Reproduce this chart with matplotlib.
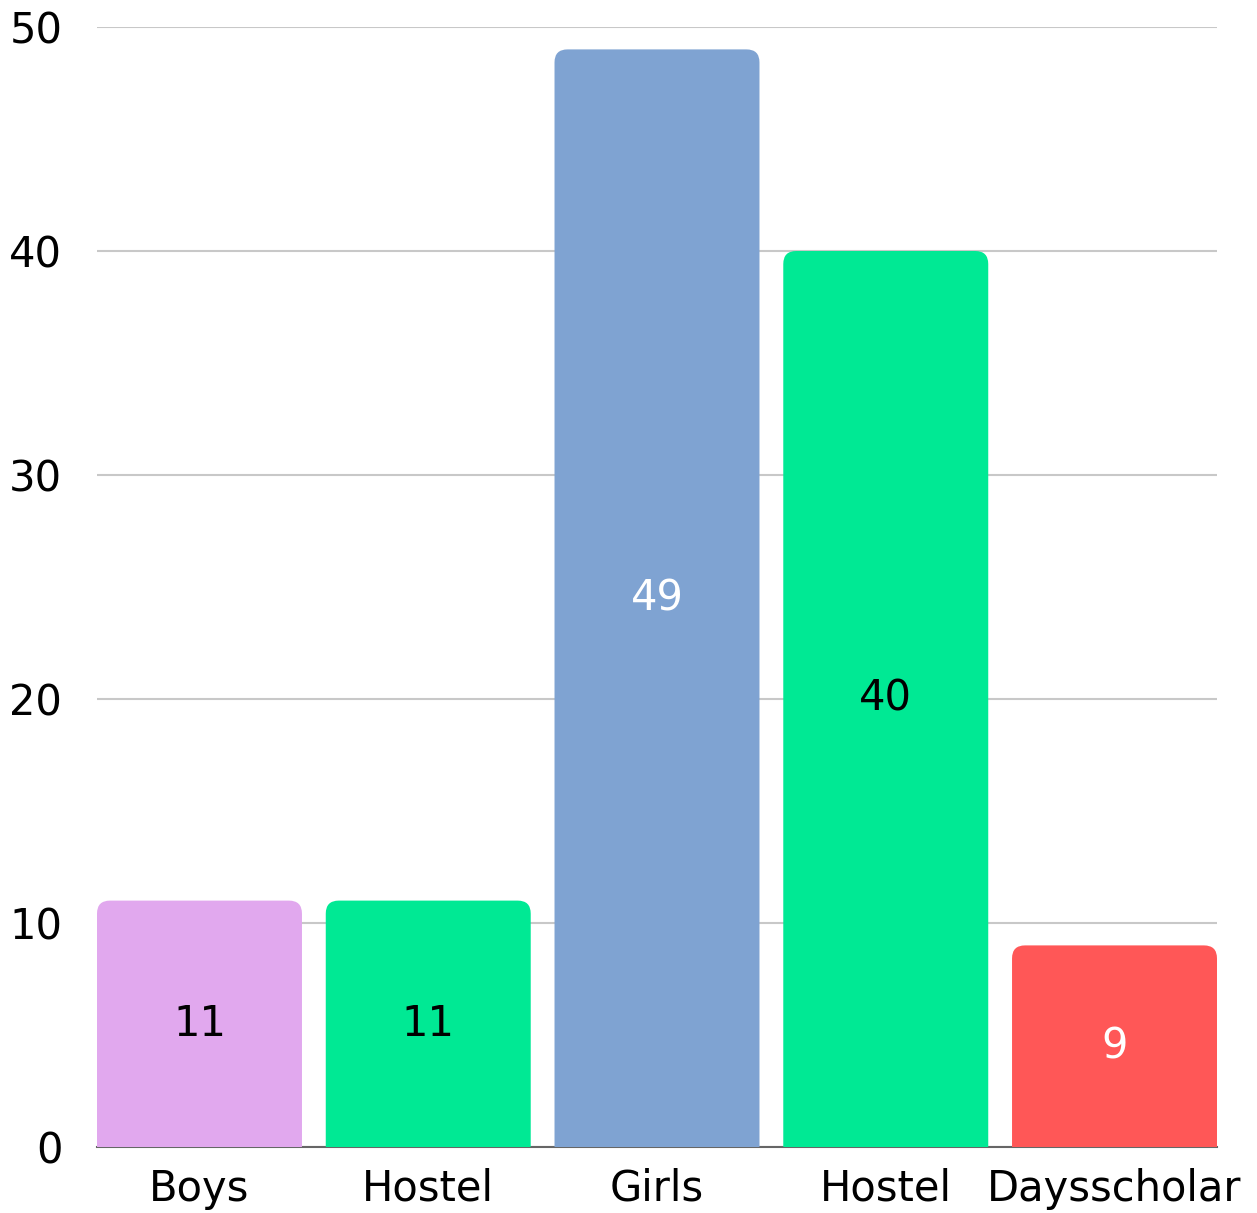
import numpy as np
import matplotlib.pyplot as plt
from matplotlib.patches import FancyBboxPatch

# данные
categories = ['Boys', 'Hostel', 'Girls', 'Hostel', 'Daysscholar']
values = [11, 11, 49, 40, 9]
colors = ['#E1A8EE', '#00E994', '#7FA3D2', '#00E994', '#FF5757']
label_colors = ['black', 'black', 'white', 'black', 'white']

plt.rcParams['font.family'] = ['DejaVu Sans']

fig = plt.figure(figsize=(12.57, 12.13), dpi=100)
ax = fig.add_axes([97 / 1257, 1 - 1147 / 1213, 1120 / 1257, 1120 / 1213])

w = 0.896
x = np.arange(len(values))
ax.set_xlim(-w / 2, len(values) - 1 + w / 2)
ax.set_ylim(0, 50)

# скругление верхних углов (в пикселях -> данные)
px_x = 1120 / (len(values) - 1 + w)
px_y = 1120 / 50
r = 13 / px_x
for xi, v, c, lc in zip(x, values, colors, label_colors):
    p = FancyBboxPatch((xi - w / 2, -2), w, v + 2,
                       boxstyle=f'round,pad=0,rounding_size={r}',
                       mutation_aspect=px_x / px_y, facecolor=c,
                       edgecolor='none', zorder=3)
    ax.add_patch(p)
    ax.text(xi, v / 2, str(v), ha='center', va='center', color=lc,
            fontsize=30, zorder=4)

ax.set_yticks([0, 10, 20, 30, 40, 50])
ax.set_xticks(x)
ax.set_xticklabels(categories)
ax.tick_params(axis='y', length=0, pad=25, labelsize=30)
ax.tick_params(axis='x', length=0, pad=15, labelsize=30)
ax.yaxis.grid(True, color='#C8C8C8', linewidth=1.5, zorder=0)
ax.set_axisbelow(True)
for s in ['top', 'right', 'left']:
    ax.spines[s].set_visible(False)
ax.spines['bottom'].set_color('#666666')
ax.spines['bottom'].set_linewidth(1.5)
ax.spines['bottom'].set_zorder(2)

plt.savefig('out.png', dpi=100)
